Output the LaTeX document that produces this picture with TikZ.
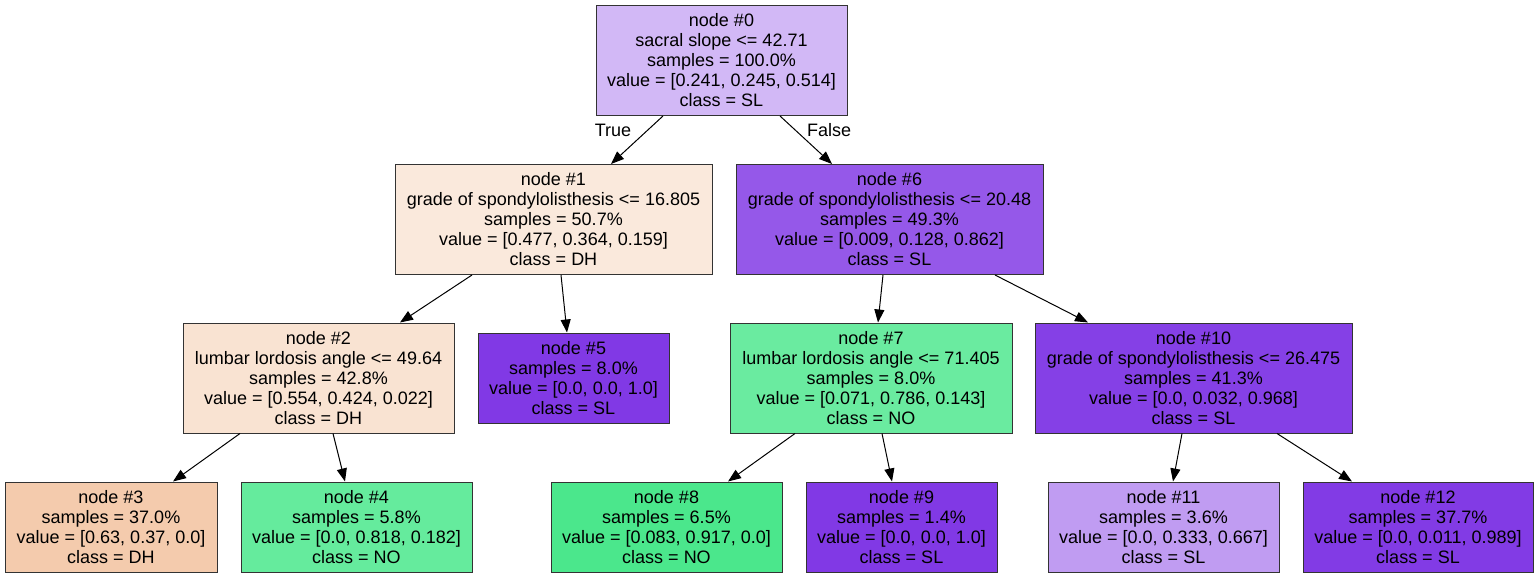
\documentclass[tikz,border=0pt]{standalone}
\usepackage{fontspec}
\setmainfont{Liberation Sans}
\usetikzlibrary{arrows.meta}
\definecolor{c0}{RGB}{210,184,246}
\definecolor{c1}{RGB}{250,233,220}
\definecolor{c2}{RGB}{249,227,210}
\definecolor{c3}{RGB}{244,203,173}
\definecolor{c4}{RGB}{101,235,157}
\definecolor{c5}{RGB}{129,57,229}
\definecolor{c6}{RGB}{149,88,233}
\definecolor{c7}{RGB}{106,235,160}
\definecolor{c8}{RGB}{75,231,140}
\definecolor{c9}{RGB}{129,57,229}
\definecolor{c10}{RGB}{133,64,230}
\definecolor{c11}{RGB}{192,156,242}
\definecolor{c12}{RGB}{130,59,229}
\begin{document}
\begin{tikzpicture}[x=1pt,y=-1pt,
  box/.style={rectangle, draw=black!80, line width=1pt, align=center, inner sep=0pt,
    font=\fontsize{18}{20}\selectfont},
  big/.style={box, minimum height=110pt},
  small/.style={box, minimum height=90pt},
  edge/.style={draw=black, line width=1pt, -{Triangle[length=13pt,width=10pt]}},
  lbl/.style={font=\fontsize{18}{20}\selectfont, inner sep=0pt}]
\useasboundingbox (0,0) rectangle (1539,577);

\node[big, fill=c0, minimum width=251pt] (n0) at (721.5,60.5)
  {node \#0\\sacral slope <= 42.71\\samples = 100.0\%\\value = [0.241, 0.245, 0.514]\\class = SL};
\node[big, fill=c1, minimum width=317pt] (n1) at (553.5,219.5)
  {node \#1\\grade of spondylolisthesis <= 16.805\\samples = 50.7\%\\value = [0.477, 0.364, 0.159]\\class = DH};
\node[big, fill=c6, minimum width=307pt] (n6) at (889.5,219.5)
  {node \#6\\grade of spondylolisthesis <= 20.48\\samples = 49.3\%\\value = [0.009, 0.128, 0.862]\\class = SL};
\node[big, fill=c2, minimum width=271pt] (n2) at (318.5,378)
  {node \#2\\lumbar lordosis angle <= 49.64\\samples = 42.8\%\\value = [0.554, 0.424, 0.022]\\class = DH};
\node[small, fill=c5, minimum width=191pt] (n5) at (573.5,378)
  {node \#5\\samples = 8.0\%\\value = [0.0, 0.0, 1.0]\\class = SL};
\node[big, fill=c7, minimum width=282pt] (n7) at (871,378)
  {node \#7\\lumbar lordosis angle <= 71.405\\samples = 8.0\%\\value = [0.071, 0.786, 0.143]\\class = NO};
\node[big, fill=c10, minimum width=317pt] (n10) at (1193.5,378)
  {node \#10\\grade of spondylolisthesis <= 26.475\\samples = 41.3\%\\value = [0.0, 0.032, 0.968]\\class = SL};
\node[small, fill=c3, minimum width=212pt] (n3) at (111,527)
  {node \#3\\samples = 37.0\%\\value = [0.63, 0.37, 0.0]\\class = DH};
\node[small, fill=c4, minimum width=231pt] (n4) at (356.5,527)
  {node \#4\\samples = 5.8\%\\value = [0.0, 0.818, 0.182]\\class = NO};
\node[small, fill=c8, minimum width=231pt] (n8) at (666.5,527)
  {node \#8\\samples = 6.5\%\\value = [0.083, 0.917, 0.0]\\class = NO};
\node[small, fill=c9, minimum width=191pt] (n9) at (901.5,527)
  {node \#9\\samples = 1.4\%\\value = [0.0, 0.0, 1.0]\\class = SL};
\node[small, fill=c11, minimum width=231pt] (n11) at (1163.5,527)
  {node \#11\\samples = 3.6\%\\value = [0.0, 0.333, 0.667]\\class = SL};
\node[small, fill=c12, minimum width=230pt] (n12) at (1418,527)
  {node \#12\\samples = 37.7\%\\value = [0.0, 0.011, 0.989]\\class = SL};

\draw[edge] ([xshift=-58.5pt]n0.south) -- ([xshift=57.5pt]n1.north);
\draw[edge] ([xshift=58.5pt]n0.south) -- ([xshift=-57.5pt]n6.north);
\draw[edge] ([xshift=-81.5pt]n1.south) -- ([xshift=81.5pt]n2.north);
\draw[edge] ([xshift=7.5pt]n1.south) -- ([xshift=-6.5pt]n5.north);
\draw[edge] ([xshift=-6.5pt]n6.south) -- ([xshift=7pt]n7.north);
\draw[edge] ([xshift=105.5pt]n6.south) -- ([xshift=-105.5pt]n10.north);
\draw[edge] ([xshift=-78.5pt]n2.south) -- ([xshift=62pt]n3.north);
\draw[edge] ([xshift=14.5pt]n2.south) -- ([xshift=-11.5pt]n4.north);
\draw[edge] ([xshift=-76pt]n7.south) -- ([xshift=61.5pt]n8.north);
\draw[edge] ([xshift=11pt]n7.south) -- ([xshift=-9.5pt]n9.north);
\draw[edge] ([xshift=-11.5pt]n10.south) -- ([xshift=9.5pt]n11.north);
\draw[edge] ([xshift=83.5pt]n10.south) -- ([xshift=-66pt]n12.north);

\node[lbl] (lt) at (613,130) {True};
\node[lbl] (lf) at (829,130) {False};
\end{tikzpicture}
\end{document}
